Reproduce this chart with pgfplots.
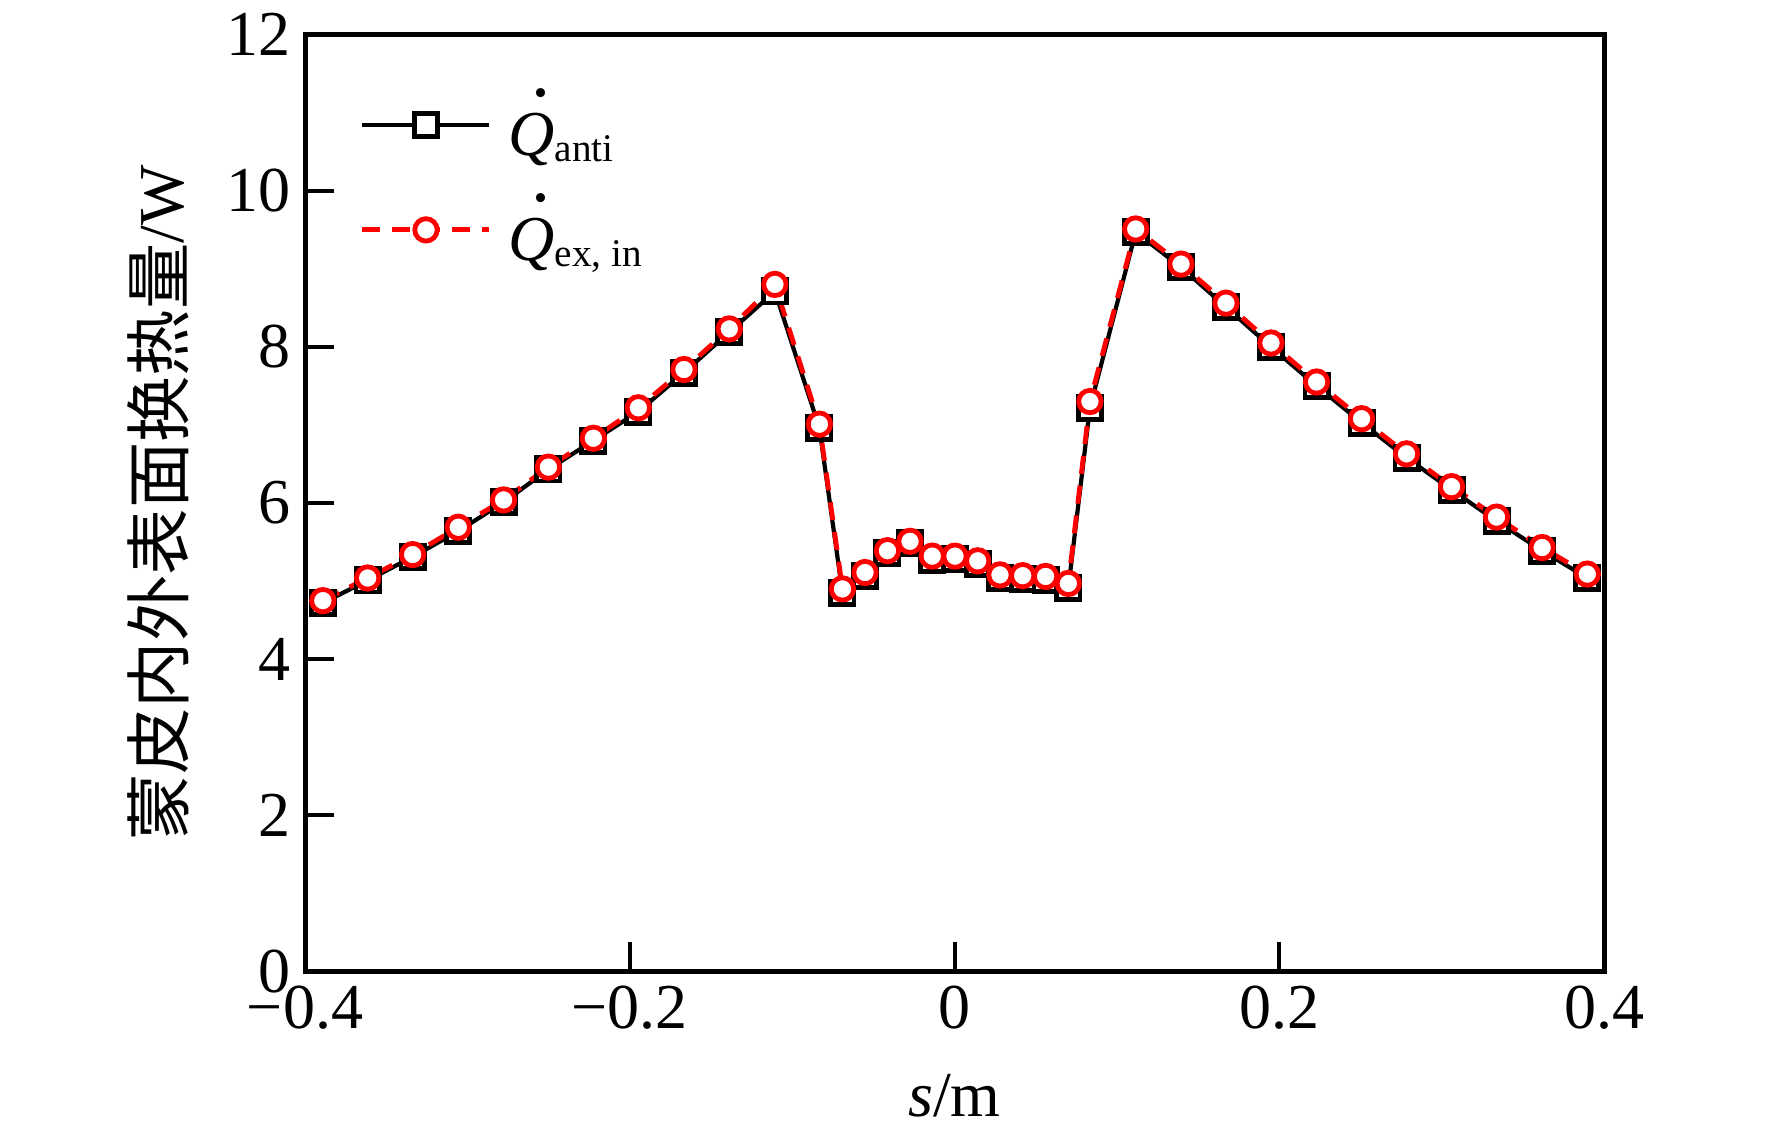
\documentclass[border=0pt]{standalone}
\usepackage{fontspec}
\setmainfont{Liberation Serif}
\newfontfamily\cjk{Noto Sans CJK SC}
\usepackage{pgfplots}
\usepackage{pgfplotstable}
\pgfplotsset{compat=1.18}
\newcommand\fs{\fontsize{16}{19}\selectfont}
\newcommand\Qd{\makebox[0pt][l]{\hspace{0.36em}\raisebox{0.93em}{\fontsize{19}{19}\selectfont.}}{\itshape Q}}
\newcommand\sub[1]{\raisebox{-1.4pt}{\fontsize{9.8}{10}\selectfont #1}}

\pgfplotstableread{
x y
-0.3890 4.72
-0.3614 5.01
-0.3337 5.31
-0.3056 5.64
-0.2777 6.01
-0.2501 6.43
-0.2224 6.80
-0.1947 7.17
-0.1666 7.67
-0.1387 8.19
-0.1106 8.71
-0.0832 6.96
-0.0690 4.85
-0.0551 5.07
-0.0413 5.36
-0.0274 5.49
-0.0137 5.27
0.0003 5.28
0.0143 5.22
0.0280 5.04
0.0420 5.03
0.0561 5.02
0.0701 4.91
0.0834 7.22
0.1116 9.47
0.1395 9.02
0.1672 8.51
0.1949 8.00
0.2230 7.50
0.2507 7.03
0.2784 6.58
0.3061 6.17
0.3338 5.77
0.3619 5.39
0.3897 5.04
}\anti

\pgfplotstableread{
x y
-0.3890 4.75
-0.3614 5.04
-0.3337 5.34
-0.3056 5.69
-0.2777 6.04
-0.2501 6.46
-0.2224 6.83
-0.1947 7.22
-0.1666 7.71
-0.1387 8.23
-0.1106 8.80
-0.0832 7.01
-0.0690 4.90
-0.0551 5.11
-0.0413 5.39
-0.0274 5.51
-0.0137 5.32
0.0003 5.32
0.0143 5.26
0.0280 5.08
0.0420 5.07
0.0561 5.06
0.0701 4.97
0.0834 7.30
0.1116 9.51
0.1395 9.06
0.1672 8.56
0.1949 8.05
0.2230 7.55
0.2507 7.08
0.2784 6.63
0.3061 6.21
0.3338 5.82
0.3619 5.43
0.3897 5.09
}\exin

\begin{document}
\begin{tikzpicture}
\begin{axis}[
  scale only axis,
  width=324.75pt, height=234.25pt,
  xmin=-0.4, xmax=0.4, ymin=0, ymax=12,
  xtick={-0.4,-0.2,0,0.2,0.4},
  xticklabels={−0.4,−0.2,0,0.2,0.4},
  ytick={0,2,4,6,8,10,12},
  yticklabels={0,2,4,6,8,10,12},
  tick align=inside,
  xtick pos=left, ytick pos=left,
  major tick length=7.3pt,
  every tick/.style={black, line width=1pt},
  axis line style={line width=1.25pt},
  tick label style={font=\fs},
  every axis x label/.style={at={(axis description cs:0.5,-0.1548)}, anchor=base, font=\fs},
  every axis y label/.style={at={(axis description cs:-0.1132,0.5)}, anchor=center, rotate=90, font=\fs},
  xlabel={{\itshape s}/m},
  ylabel={{\cjk\fontsize{16.6}{19}\selectfont 蒙皮内外表面换热量}/W},
  legend style={draw=none, fill=none, inner sep=0pt, outer sep=0pt,
    at={(axis description cs:0.04234,0.94237)}, anchor=north west,
    font=\fs, row sep=7.8pt,
    nodes={inner sep=0pt, anchor=west},
    /tikz/every odd column/.append style={column sep=4.2pt}},
  legend image code/.code={\draw[mark repeat=2,mark phase=2,#1] plot coordinates {(0pt,0pt) (15.9pt,0pt) (31.75pt,0pt)};},
  clip=false,
]
\addplot[black, line width=1.05pt, mark=square*, mark size=2.9pt,
  mark options={solid, fill=white, draw=black, line width=1.2pt}] table[x=x,y=y] {\anti};
\addlegendentry{\Qd\sub{anti}}
\addplot[red, line width=1.2pt, dash pattern=on 4.5pt off 3pt, mark=*, mark size=2.8pt,
  mark options={solid, fill=white, draw=red, line width=1.2pt}] table[x=x,y=y] {\exin};
\addlegendentry{\Qd\sub{ex, in}}
\end{axis}
\path (current axis.south west) ++(-76.25pt,-41.75pt) rectangle ++(443pt,284.5pt);
\end{tikzpicture}
\end{document}
